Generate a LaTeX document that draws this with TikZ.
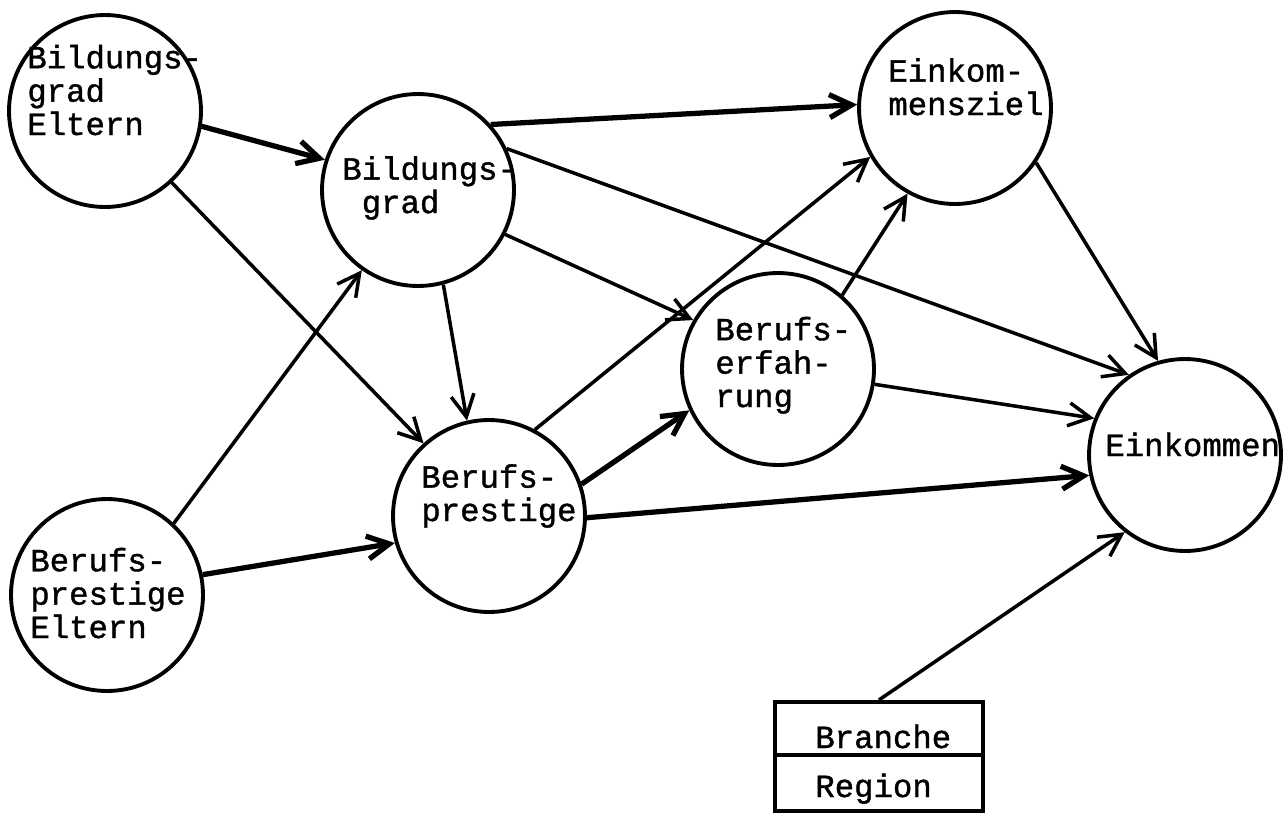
\documentclass[tikz,border=0pt]{standalone}
\usepackage{fontspec}
\newfontfamily\schreib[FakeBold=1.2]{Liberation Mono}
\usepackage{tikz}
\usetikzlibrary{arrows.meta}

\tikzset{
  kreis/.style={circle, draw, line width=2.2pt, minimum size=3.84cm, inner sep=0pt},
  schrift/.style={font=\schreib\fontsize{18.4pt}{19pt}\selectfont, align=left, inner sep=0pt, anchor=base west},
  pfeil/.style={-{Straight Barb[length=4.4mm,width=4.6mm]}, line width=2pt},
  dick/.style={pfeil, line width=3pt},
  kasten/.style={draw, line width=2.4pt, minimum width=4.16cm, inner sep=0pt},
}

\begin{document}
\begin{tikzpicture}[x=0.02cm, y=-0.02cm]
\useasboundingbox (0,0) rectangle (1283,812);
% Kreise
\node[kreis] (bge) at (105,111) {};
\node[kreis] (bg) at (418,190) {};
\node[kreis] (ez) at (955,108) {};
\node[kreis] (be) at (778,369) {};
\node[kreis] (bp) at (489,516) {};
\node[kreis] (bpe) at (107,595) {};
\node[kreis] (ek) at (1185,455) {};
% Beschriftung (Anker = Grundlinie der letzten Zeile)
\node[schrift] (bge-t) at (27,135) {Bildungs-\\grad\\Eltern};
\node[schrift] (bg-t) at (342,213) {Bildungs-\\\phantom{g}grad};
\node[schrift] (ez-t) at (888,115) {Einkom-\\mensziel};
\node[schrift] (be-t) at (715,407) {Berufs-\\erfah-\\rung};
\node[schrift] (bp-t) at (421,521) {Berufs-\\prestige};
\node[schrift] (bpe-t) at (30,638) {Berufs-\\prestige\\Eltern};
\node[schrift] (ek-t) at (1105,456) {Einkommen};
% Kasten
\node[kasten, minimum height=1.06cm] (branche) at (879,728.5) {};
\node[kasten, minimum height=1.12cm] (region) at (879,783) {};
\node[schrift] (branche-t) at (815,748) {Branche};
\node[schrift] (region-t) at (815,797) {Region};
% Pfeile
\draw[dick] (bge.-9.8) -- (bg.162.7);
\draw[pfeil] (bge.-47.6) -- (bp.132.5);
\draw[pfeil] (bpe.47.9) -- (bg.235.5);
\draw[dick] (bpe.12.1) -- (bp.196.5);
\draw[dick] (bg.42) -- (ez.178.8);
\draw[pfeil] (bg.25.8) -- (ek.125.2);
\draw[pfeil] (bg.-27.1) -- (be.150.5);
\draw[pfeil] (bg.-75.4) -- (bp.103.3);
\draw[pfeil] (bp.62.6) -- (ez.210.9);
\draw[pfeil] (be.49.1) -- (ez.241.6);
\draw[pfeil] (ez.-34.7) -- (ek.106.2);
\draw[dick] (bp.19.5) -- (be.205.7);
\draw[dick] (bp.-1.8) -- (ek.192.6);
\draw[pfeil] (be.-9.4) -- (ek.158.6);
\draw[pfeil] (branche.north) -- (ek.232.4);
\end{tikzpicture}
\end{document}
